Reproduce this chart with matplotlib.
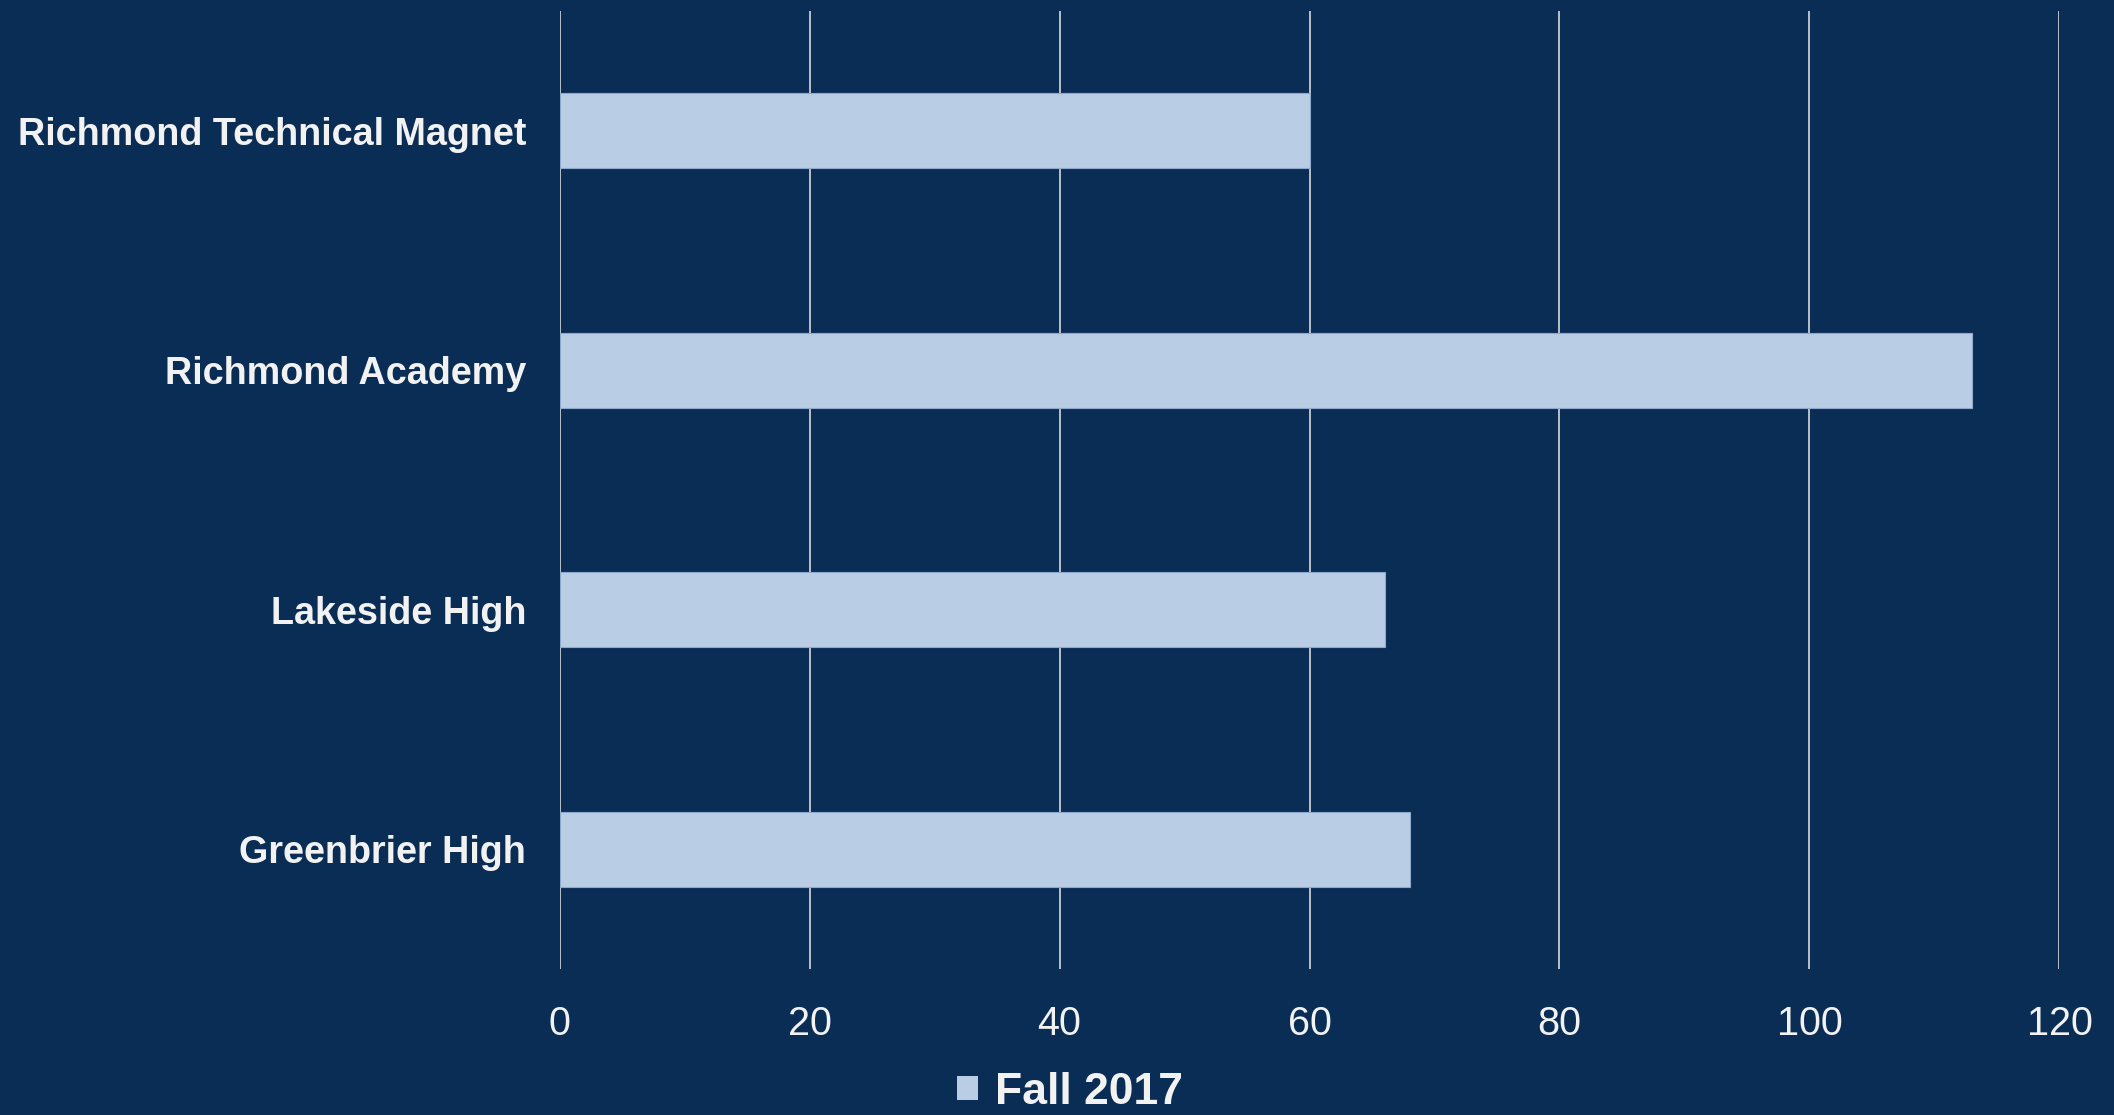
import matplotlib.pyplot as plt
from matplotlib.patches import Patch

# data
schools = ['Richmond Technical Magnet', 'Richmond Academy', 'Lakeside High', 'Greenbrier High']
fall_2017 = [60, 113, 66, 68]
x_ticks = [0, 20, 40, 60, 80, 100, 120]
series_name = 'Fall 2017'

bg = '#0A2D56'
bar_color = '#B9CDE5'
text_color = '#F2F2F2'

plt.rcParams['font.family'] = ['Liberation Sans', 'DejaVu Sans']

fig = plt.figure(figsize=(21.14, 11.15), dpi=100, facecolor=bg)
ax = fig.add_axes([0.2647, 0.131, 0.7095, 0.859], facecolor=bg)

ypos = list(range(len(schools)))
ax.barh(ypos, fall_2017, height=0.313, color=bar_color,
        edgecolor='#8EA9CC', linewidth=0.8, zorder=3)

ax.set_ylim(-0.5, len(schools) - 0.5)
ax.invert_yaxis()
ax.set_xlim(0, 120)
ax.set_xticks(x_ticks)
ax.set_yticks(ypos)
ax.set_yticklabels(schools, fontsize=27.2, fontweight='bold', color=text_color)
ax.tick_params(axis='x', length=0, pad=26, labelsize=28.5, labelcolor=text_color)
ax.tick_params(axis='y', length=0, pad=24)

ax.grid(axis='x', color='#D9D9D9', linewidth=1.2, zorder=0)
ax.grid(axis='y', visible=False)
for s in ax.spines.values():
    s.set_visible(False)

# legend at bottom, kept just inside the figure edge
handle = Patch(facecolor=bar_color, edgecolor='none')
leg = fig.legend([handle], [series_name], loc='lower center',
                 bbox_to_anchor=(1070 / 2114, 0.0), frameon=False,
                 borderaxespad=0.0, borderpad=0.05,
                 prop={'size': 32, 'weight': 'bold'},
                 handlelength=0.48, handleheight=0.48, handletextpad=0.39)
for t in leg.get_texts():
    t.set_color(text_color)

plt.savefig('out.png', dpi=100, facecolor=bg)
plt.close()
